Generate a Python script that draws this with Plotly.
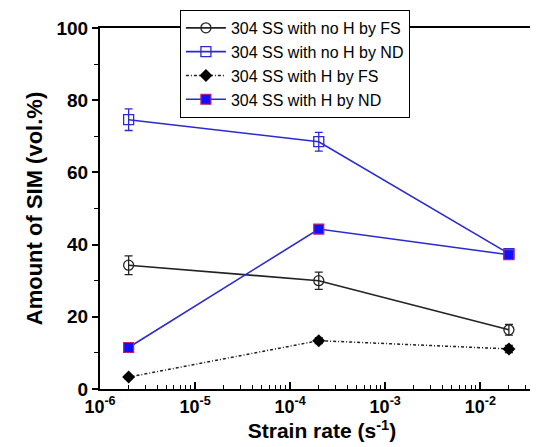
import plotly.graph_objects as go

strain_rate = [2e-6, 2e-4, 2e-2]

noH_FS = [34.3, 30.0, 16.4]
noH_FS_err = [2.6, 2.4, 1.5]
noH_ND = [74.6, 68.5, 37.5]
noH_ND_err = [3.0, 2.6, 1.0]
H_FS = [3.3, 13.4, 11.1]
H_FS_err = [0.5, 0.8, 1.0]
H_ND = [11.5, 44.3, 37.2]
H_ND_err = [0.6, 1.0, 1.0]

names = ["304 SS with no H by FS", "304 SS with no H by ND",
         "304 SS with H by FS", "304 SS with H by ND"]

x_tickvals = [1e-6, 1e-5, 1e-4, 1e-3, 1e-2]
x_ticktext = ["10<sup>-6</sup>", "10<sup>-5</sup>", "10<sup>-4</sup>",
              "10<sup>-3</sup>", "10<sup>-2</sup>"]
y_tickvals = [0, 20, 40, 60, 80, 100]

BLUE = "#2a2ad0"
FONT = "Liberation Sans, Arial, sans-serif"

fig = go.Figure()

fig.add_trace(go.Scatter(
    x=strain_rate, y=noH_FS, name=names[0], mode="lines+markers",
    line=dict(color="#222222", width=1.6),
    marker=dict(symbol="circle-open", size=10, color="#222222", line=dict(width=1.3)),
    error_y=dict(type="data", array=noH_FS_err, color="#222222", thickness=1.3, width=4),
))
fig.add_trace(go.Scatter(
    x=strain_rate, y=noH_ND, name=names[1], mode="lines+markers",
    line=dict(color=BLUE, width=1.6),
    marker=dict(symbol="square-open", size=10, color=BLUE, line=dict(width=1.3)),
    error_y=dict(type="data", array=noH_ND_err, color=BLUE, thickness=1.3, width=4),
))
fig.add_trace(go.Scatter(
    x=strain_rate, y=H_FS, name=names[2], mode="lines+markers",
    line=dict(color="#222222", width=1.5, dash="3px,2px,1px,2px"),
    marker=dict(symbol="diamond", size=10, color="black"),
    error_y=dict(type="data", array=H_FS_err, color="#222222", thickness=1.3, width=4),
))
fig.add_trace(go.Scatter(
    x=strain_rate, y=H_ND, name=names[3], mode="lines+markers",
    line=dict(color=BLUE, width=1.6),
    marker=dict(symbol="square", size=10, color="#1010ff", line=dict(color="#c0206a", width=1.2)),
    error_y=dict(type="data", array=H_ND_err, color=BLUE, thickness=1.3, width=4),
))

fig.update_layout(
    width=538, height=447,
    margin=dict(l=92, r=2, t=20, b=66, autoexpand=False),
    paper_bgcolor="white", plot_bgcolor="white",
    font=dict(family=FONT, color="black"),
    showlegend=True,
    legend=dict(
        x=0.18, y=1.05, xanchor="left", yanchor="top",
        bordercolor="black", borderwidth=1, bgcolor="white",
        font=dict(family=FONT, size=16, color="black"),
        tracegroupgap=0, itemwidth=40,
    ),
    xaxis=dict(
        type="log", range=[-6.0, -1.33],
        tickvals=x_tickvals, ticktext=x_ticktext,
        ticks="inside", ticklen=7, tickwidth=1.5, tickcolor="black",
        minor=dict(ticks="inside", ticklen=4, tickwidth=1.2, tickcolor="black", showgrid=False,
                   dtick="D1"),
        showline=True, linecolor="black", linewidth=2, mirror=True,
        showgrid=False, zeroline=False,
        tickfont=dict(family=FONT, size=18, color="black", weight="bold"),
        title=dict(text="<b>Strain rate (s<sup>-1</sup>)</b>", font=dict(family=FONT, size=21, color="black"),
                   standoff=8),
    ),
    yaxis=dict(
        range=[0, 100], tickvals=y_tickvals,
        ticks="outside", ticklen=6, tickwidth=1.5, tickcolor="black",
        minor=dict(ticks="outside", ticklen=4, tickwidth=1.2, tickcolor="black", dtick=10, showgrid=False),
        showline=True, linecolor="black", linewidth=2, mirror=True,
        showgrid=False, zeroline=False,
        tickfont=dict(family=FONT, size=19, color="black", weight="bold"),
        title=dict(text="<b>Amount of SIM (vol.%)</b>", font=dict(family=FONT, size=22, color="black"),
                   standoff=8),
    ),
)

fig.write_html("out.html")
